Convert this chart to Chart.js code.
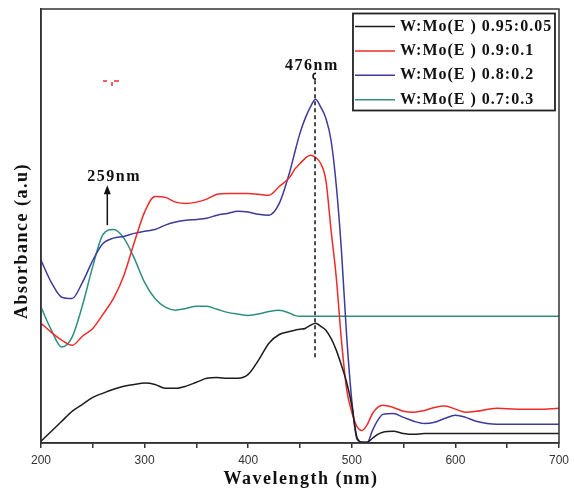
<!DOCTYPE html>
<html>
<head>
<meta charset="utf-8">
<script src="https://cdn.jsdelivr.net/npm/chart.js@4.4.0/dist/chart.umd.min.js"></script>
<style>
  html, body { margin: 0; padding: 0; background: #fff; }
  #wrap { width: 574px; height: 490px; }
</style>
</head>
<body>
<div id="wrap"><canvas id="uvChart"></canvas></div>
<script>
// wavelength grid (nm), finer around the 476 nm band
const wavelengths = [200, 210, 220, 230, 240, 250, 260, 270, 280, 290, 300, 310, 320, 330, 340, 350, 360, 370, 380, 390, 400, 410, 420, 430,
  440, 445, 450, 455, 460, 465, 470, 475, 480, 485, 490, 495, 500, 505, 510, 515, 520, 525, 530,
  540, 550, 560, 570, 580, 590, 600, 610, 620,
  640, 660, 680, 700];

// absorbance (a.u.)
const abs095 = [0.004, 0.027, 0.050, 0.073, 0.089, 0.105, 0.115, 0.124, 0.131, 0.135, 0.138, 0.135, 0.126, 0.126, 0.131, 0.140, 0.149, 0.151, 0.149, 0.149, 0.158, 0.191, 0.230, 0.250,
  0.257, 0.260, 0.262, 0.264, 0.271, 0.276, 0.269, 0.260, 0.241, 0.214, 0.179, 0.140, 0.087, 0.013, 0.002, 0.002, 0.011, 0.020, 0.025,
  0.027, 0.022, 0.020, 0.022, 0.022, 0.022, 0.022, 0.022, 0.022,
  0.022, 0.022, 0.022, 0.022];
const abs090 = [0.276, 0.255, 0.237, 0.225, 0.246, 0.264, 0.297, 0.333, 0.386, 0.462, 0.532, 0.568, 0.566, 0.555, 0.552, 0.555, 0.562, 0.573, 0.575, 0.575, 0.575, 0.573, 0.571, 0.591,
  0.612, 0.631, 0.644, 0.656, 0.663, 0.658, 0.644, 0.605, 0.490, 0.382, 0.237, 0.124, 0.071, 0.038, 0.029, 0.043, 0.068, 0.082, 0.087,
  0.082, 0.073, 0.071, 0.075, 0.082, 0.085, 0.078, 0.071, 0.073,
  0.080, 0.078, 0.078, 0.080];
const abs080 = [0.421, 0.370, 0.336, 0.333, 0.370, 0.421, 0.460, 0.472, 0.476, 0.483, 0.488, 0.492, 0.502, 0.509, 0.513, 0.515, 0.518, 0.525, 0.529, 0.534, 0.532, 0.527, 0.525, 0.552,
  0.624, 0.670, 0.714, 0.748, 0.774, 0.792, 0.774, 0.748, 0.697, 0.594, 0.444, 0.248, 0.098, 0.009, 0.002, 0.002, 0.029, 0.052, 0.066,
  0.068, 0.059, 0.050, 0.045, 0.048, 0.057, 0.064, 0.059, 0.050,
  0.043, 0.043, 0.043, 0.043];
const abs070 = [0.313, 0.260, 0.221, 0.244, 0.317, 0.407, 0.481, 0.492, 0.472, 0.426, 0.370, 0.333, 0.313, 0.306, 0.310, 0.315, 0.315, 0.308, 0.301, 0.297, 0.294, 0.297, 0.303, 0.306,
  0.299, 0.294, 0.292, 0.292, 0.292, 0.292, 0.292, 0.292, 0.292, 0.292, 0.292, 0.292, 0.292, 0.292, 0.292, 0.292, 0.292, 0.292, 0.292,
  0.292, 0.292, 0.292, 0.292, 0.292, 0.292, 0.292, 0.292, 0.292,
  0.292, 0.292, 0.292, 0.292];

const seriesLabels = ['W:Mo(E ) 0.95:0.05', 'W:Mo(E ) 0.9:0.1', 'W:Mo(E ) 0.8:0.2', 'W:Mo(E ) 0.7:0.3'];
const seriesColors = ['#1c1c1c', '#f02a2a', '#3d3a9c', '#2c8f80'];
const xTicks = [200, 300, 400, 500, 600, 700];

const serif = '"Liberation Serif", "Times New Roman", serif';

function toPoints(vals) {
  return wavelengths.map((w, i) => ({ x: w, y: vals[i] }));
}

const overlay = {
  id: 'overlay',
  afterDraw(chart) {
    const ctx = chart.ctx;
    const a = chart.chartArea;
    const xs = chart.scales.x, ys = chart.scales.y;
    ctx.save();

    // frame
    ctx.strokeStyle = '#333';
    ctx.lineWidth = 1.5;
    ctx.strokeRect(a.left, a.top, a.right - a.left, a.bottom - a.top);

    // legend box
    const lx = a.right - 206, ly = a.top + 4.5;
    ctx.fillStyle = '#fff';
    ctx.fillRect(lx, ly, 202, 97);
    ctx.strokeStyle = '#222';
    ctx.lineWidth = 1.8;
    ctx.strokeRect(lx, ly, 202, 97);
    ctx.font = 'bold 16px ' + serif;
    ctx.letterSpacing = '1px';
    ctx.textBaseline = 'middle';
    ctx.textAlign = 'left';
    seriesLabels.forEach((lab, i) => {
      const yy = ly + 13 + i * 24.4;
      ctx.strokeStyle = seriesColors[i];
      ctx.lineWidth = 1.5;
      ctx.beginPath();
      ctx.moveTo(lx + 2, yy);
      ctx.lineTo(lx + 42, yy);
      ctx.stroke();
      ctx.fillStyle = '#111';
      ctx.fillText(lab, lx + 47, yy);
    });

    // 476 nm dashed marker
    const dx = xs.getPixelForValue(464.5);
    ctx.strokeStyle = '#111';
    ctx.lineWidth = 1.5;
    ctx.setLineDash([4, 3]);
    ctx.beginPath();
    ctx.moveTo(dx, ys.getPixelForValue(0.836));
    ctx.lineTo(dx, ys.getPixelForValue(0.195));
    ctx.stroke();
    ctx.setLineDash([]);
    ctx.beginPath();
    ctx.arc(dx + 1, ys.getPixelForValue(0.845), 3, Math.PI * 0.5, Math.PI * 1.5);
    ctx.stroke();
    ctx.fillStyle = '#111';
    ctx.font = 'bold 16px ' + serif;
    ctx.letterSpacing = '1.5px';
    ctx.fillText('476nm', dx - 30, ys.getPixelForValue(0.870));

    // 259 nm arrow
    const ax = xs.getPixelForValue(264);
    const yBase = ys.getPixelForValue(0.502), yTip = ys.getPixelForValue(0.594);
    ctx.lineWidth = 1.5;
    ctx.beginPath();
    ctx.moveTo(ax, yBase);
    ctx.lineTo(ax, yTip + 8);
    ctx.stroke();
    ctx.beginPath();
    ctx.moveTo(ax, yTip);
    ctx.lineTo(ax - 3.5, yTip + 9);
    ctx.lineTo(ax + 3.5, yTip + 9);
    ctx.closePath();
    ctx.fill();
    ctx.fillText('259nm', ax - 20, yTip - 8);

    // small red speck
    ctx.fillStyle = '#f06060';
    ctx.fillRect(a.left + 62, a.top + 71, 4, 2);
    ctx.fillRect(a.left + 73, a.top + 71, 5, 2);
    ctx.fillRect(a.left + 70, a.top + 73, 2, 4);

    // axis titles
    ctx.fillStyle = '#111';
    ctx.font = 'bold 18px ' + serif;
    ctx.letterSpacing = '1.5px';
    ctx.textAlign = 'center';
    ctx.fillText('Wavelength (nm)', (a.left + a.right) / 2 + 1, 479);
    ctx.translate(22, 241);
    ctx.rotate(-Math.PI / 2);
    ctx.fillText('Absorbance (a.u)', 0, 0);

    ctx.restore();
  }
};

const chart = new Chart(document.getElementById('uvChart'), {
  type: 'line',
  data: {
    datasets: [abs095, abs090, abs080, abs070].map((vals, i) => ({
      label: seriesLabels[i],
      data: toPoints(vals),
      borderColor: seriesColors[i],
      borderWidth: 1.5,
      pointRadius: 0,
      cubicInterpolationMode: 'monotone',
      fill: false
    }))
  },
  options: {
    responsive: true,
    maintainAspectRatio: false,
    animation: false,
    layout: { padding: { top: 9, right: 15, left: 0, bottom: 0 } },
    plugins: { legend: { display: false }, tooltip: { enabled: false } },
    scales: {
      x: {
        type: 'linear',
        min: 200,
        max: 700,
        afterFit(s) { s.height = 47; },
        ticks: {
          stepSize: 50,
          autoSkip: false,
          maxRotation: 0,
          padding: 5,
          color: '#333',
          font: { family: '"Liberation Sans", Arial, sans-serif', size: 12 },
          callback: v => (xTicks.includes(v) ? v : '')
        },
        grid: { display: true, drawOnChartArea: false, drawTicks: true, tickLength: 5, color: '#333', lineWidth: 1.5 },
        border: { display: true, color: '#333', width: 1.5 }
      },
      y: {
        min: 0,
        max: 1,
        afterFit(s) { s.width = 41; },
        ticks: { display: false },
        grid: { display: false },
        border: { display: true, color: '#333', width: 1.5 }
      }
    }
  },
  plugins: [overlay]
});
</script>
</body>
</html>
